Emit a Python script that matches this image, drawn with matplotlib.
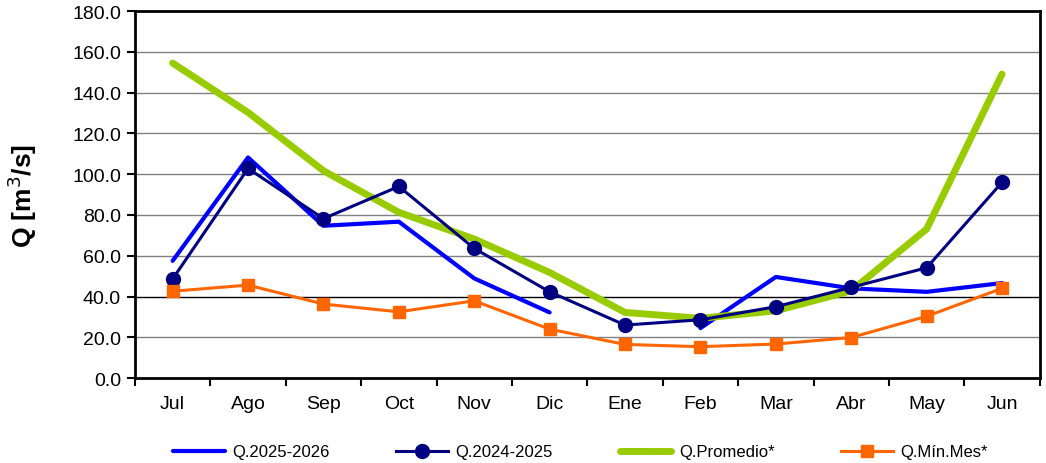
import numpy as np
import matplotlib
matplotlib.use("Agg")
import matplotlib.pyplot as plt

months = ["Jul", "Ago", "Sep", "Oct", "Nov", "Dic", "Ene", "Feb", "Mar", "Abr", "May", "Jun"]
q_2025_2026 = [57.5, 108.2, 74.7, 76.7, 48.9, 32.2, np.nan, 24.5, 49.6, 44.0, 42.3, 46.6]
q_2024_2025 = [48.6, 102.8, 78.2, 94.0, 63.6, 42.3, 26.0, 28.6, 35.0, 44.5, 54.1, 96.0]
q_promedio = [154.5, 130.3, 101.7, 81.3, 68.2, 51.8, 32.2, 29.3, 33.0, 42.8, 73.1, 149.1]
q_min_mes = [42.6, 45.6, 36.3, 32.5, 37.9, 24.0, 16.5, 15.4, 16.7, 19.9, 30.3, 44.0]
labels = ["Q.2025-2026", "Q.2024-2025", "Q.Promedio*", "Q.Mín.Mes*"]
yticks = [0, 20, 40, 60, 80, 100, 120, 140, 160, 180]

plt.rcParams['font.family'] = ['Liberation Sans', 'DejaVu Sans']

fig = plt.figure(figsize=(10.46, 4.64), dpi=100)
ax = fig.add_axes([0.129, 0.183, 0.865, 0.791])

x = np.arange(len(months))
for yv in yticks[1:-1]:
    ax.axhline(yv, color='black' if yv == 40 else '#808080', lw=1.0, zorder=1)

l1, = ax.plot(x, q_2025_2026, color='#0000FF', lw=3.0, zorder=3, solid_capstyle='round')
l2, = ax.plot(x, q_2024_2025, color='#000080', lw=2.2, marker='o', markersize=10, zorder=4)
l3, = ax.plot(x, q_promedio, color='#99CC00', lw=5.0, zorder=3, solid_capstyle='round')
l4, = ax.plot(x, q_min_mes, color='#FF6600', lw=2.2, marker='s', markersize=8.5, zorder=4)

ax.set_xlim(-0.5, len(months) - 0.5)
ax.set_ylim(0, 180)
ax.set_yticks(yticks)
ax.set_yticklabels([f"{v:.1f}" for v in yticks], fontsize=14)
ax.set_xticks(x)
ax.set_xticklabels(months, fontsize=14)
ax.tick_params(axis='x', which='major', length=0, pad=12)
ax.set_xticks(np.arange(-0.5, len(months), 1.0), minor=True)
ax.tick_params(axis='x', which='minor', length=6, width=1.5, direction='out')
ax.tick_params(axis='y', length=6, width=1.5, direction='out', pad=4)
for s in ax.spines.values():
    s.set_linewidth(2.0)
    s.set_color('black')

ax.set_ylabel("Q [m$^3$/s]", fontsize=19, fontweight='bold', labelpad=24)

fig.legend([l1, l2, l3, l4], labels, loc='center', bbox_to_anchor=(0.555, 0.024),
           ncol=4, frameon=False, fontsize=12, handlelength=3.1, columnspacing=4.0,
           handletextpad=0.45)

fig.savefig("out.png", dpi=100)
